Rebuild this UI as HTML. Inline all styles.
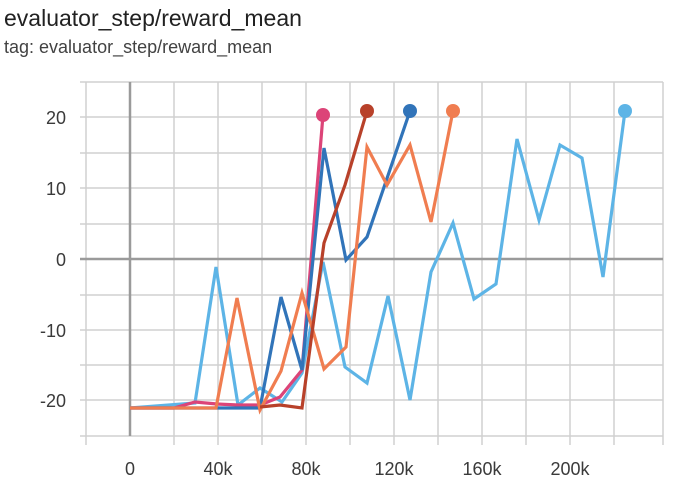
<!DOCTYPE html>
<html><head><style>
body{margin:0;background:#fff;width:676px;height:488px;overflow:hidden;font-family:"Liberation Sans",sans-serif}
</style></head><body>
<svg width="676" height="488" xmlns="http://www.w3.org/2000/svg" font-family="Liberation Sans, sans-serif">
<text x="4" y="26" font-size="23" fill="#212121">evaluator_step/reward_mean</text>
<text x="4" y="53" font-size="18" fill="#424242">tag: evaluator_step/reward_mean</text>
<g stroke="#d0d0d0" stroke-width="1.5">
<line x1="86" y1="82" x2="86" y2="445"/><line x1="174" y1="82" x2="174" y2="445"/><line x1="218" y1="82" x2="218" y2="445"/><line x1="262" y1="82" x2="262" y2="445"/><line x1="306" y1="82" x2="306" y2="445"/><line x1="350" y1="82" x2="350" y2="445"/><line x1="394" y1="82" x2="394" y2="445"/><line x1="438" y1="82" x2="438" y2="445"/><line x1="482" y1="82" x2="482" y2="445"/><line x1="526" y1="82" x2="526" y2="445"/><line x1="570" y1="82" x2="570" y2="445"/><line x1="614" y1="82" x2="614" y2="445"/><line x1="663" y1="82" x2="663" y2="445"/>
<line x1="80" y1="82" x2="663" y2="82"/><line x1="80" y1="117" x2="663" y2="117"/><line x1="80" y1="153" x2="663" y2="153"/><line x1="80" y1="188" x2="663" y2="188"/><line x1="80" y1="224" x2="663" y2="224"/><line x1="80" y1="295" x2="663" y2="295"/><line x1="80" y1="330" x2="663" y2="330"/><line x1="80" y1="365" x2="663" y2="365"/><line x1="80" y1="400" x2="663" y2="400"/><line x1="80" y1="436" x2="663" y2="436"/>
</g>
<line x1="130" y1="82" x2="130" y2="436" stroke="#9a9a9a" stroke-width="2.5"/>
<line x1="80" y1="259" x2="663" y2="259" stroke="#9a9a9a" stroke-width="2.5"/>
<g font-size="18" fill="#3a3a3a" text-anchor="end">
<text x="66" y="124">20</text><text x="66" y="195">10</text><text x="66" y="266">0</text><text x="66" y="337">-10</text><text x="66" y="407">-20</text>
</g>
<g font-size="18" fill="#3a3a3a" text-anchor="middle">
<text x="130" y="475">0</text><text x="218" y="475">40k</text><text x="306" y="475">80k</text><text x="394" y="475">120k</text><text x="482" y="475">160k</text><text x="570" y="475">200k</text>
</g>
<g fill="none" stroke-width="3.2" stroke-linejoin="miter">
<polyline stroke="#5db4e6" points="130,408 195,403 216,267 238,405 260,388 282,402 302,373 323,262 345,367 367,383 388,296 410,400 431,272 453,223 474,299 496,284 517,139 539,220 560,145 582,158 603,277 625,111"/>
<polyline stroke="#dc4478" points="130,408 174,408 195,402 217,404 238,405 260,405 280,397 302,370 323,115"/>
<polyline stroke="#3174b9" points="130,408 260,408 281,297 302,370 324,148 346,260 367,237 410,111"/>
<polyline stroke="#f07d50" points="130,408 216,408 237,298 260,410 281,371 302,293 324,369 346,347 367,147 387,185 410,145 431,222 453,111"/>
<polyline stroke="#b8412a" points="260,407 280,405 302,408 324,243 345,185 367,111"/>
</g>
<circle cx="323" cy="115" r="7" fill="#dc4478"/>
<circle cx="367" cy="111" r="7" fill="#b8412a"/>
<circle cx="410" cy="111" r="7" fill="#3174b9"/>
<circle cx="453" cy="111" r="7" fill="#f07d50"/>
<circle cx="625" cy="111" r="7" fill="#5db4e6"/>
</svg>
</body></html>
